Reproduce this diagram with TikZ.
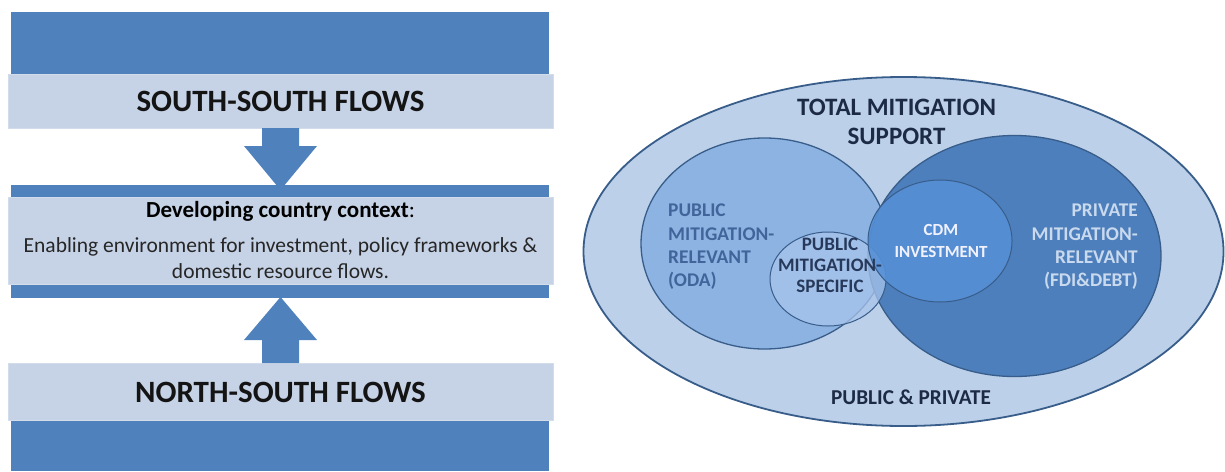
\documentclass[tikz,border=0pt]{standalone}
\usepackage{fontspec}
\setmainfont{Carlito}
\usetikzlibrary{shapes.geometric}
\definecolor{darkbar}{HTML}{4F81BD}
\definecolor{lightbar}{HTML}{C6D3E7}
\definecolor{barline}{HTML}{D3DCEA}
\definecolor{outerfill}{HTML}{BCD0E9}
\definecolor{leftfill}{HTML}{8DB3E2}
\definecolor{rightfill}{HTML}{4D7FBC}
\definecolor{cdmfill}{HTML}{5590D6}
\definecolor{specfill}{HTML}{A9C5EC}
\definecolor{ringline}{HTML}{385D8A}
\definecolor{navytext}{HTML}{1C2A45}
\definecolor{lefttext}{HTML}{41659A}
\definecolor{righttext}{HTML}{C9D9EE}
\definecolor{spectext}{HTML}{27395A}
\tikzset{
  lightbox/.style={rectangle, fill=lightbar, draw=barline, line width=1pt, inner sep=0pt},
  blockarrow/.style={fill=darkbar},
  ring/.style={ellipse, draw=ringline, line width=1.3pt, inner sep=0pt},
  lbl/.style={inner sep=0pt, font=\bfseries\fontsize{19.4}{23.3}\selectfont},
  flowtitle/.style={inner sep=0pt, text=black!92, font=\bfseries\fontsize{31}{35}\selectfont},
}
\begin{document}
\begin{tikzpicture}[x=1pt,y=-1pt]
\useasboundingbox (0,0) rectangle (1225,471);
% ---------- left panel ----------
\fill[darkbar] (11,12) rectangle (549,75);
\node[lightbox, minimum width=545pt, minimum height=54pt] (ss) at (280.5,101) {};
\node[flowtitle] (sst) at (280.5,101) {SOUTH-SOUTH FLOWS};

\fill[darkbar] (11,185) rectangle (549,298);
\node[lightbox, minimum width=545pt, minimum height=87pt] (dc) at (280.5,240.5) {};
\node[inner sep=0pt, font=\fontsize{23}{27}\selectfont] (dc1) at (280.5,211) {\textbf{Developing country context}:};
\node[inner sep=0pt, font=\fontsize{21.5}{25}\selectfont, text=black!85] (dc2) at (280.5,247) {Enabling environment for investment, policy frameworks \&};
\node[inner sep=0pt, font=\fontsize{21.5}{25}\selectfont, text=black!85] (dc3) at (280.5,271) {domestic resource flows.};

\node[lightbox, minimum width=545pt, minimum height=57pt] (ns) at (280.5,391.5) {};
\node[flowtitle] (nst) at (280.5,392) {NORTH-SOUTH FLOWS};
\fill[darkbar] (11,421) rectangle (549,471);

% arrows
\fill[blockarrow] (262,128) -- (299,128) -- (299,146) -- (317,146) -- (280.5,190) -- (244,146) -- (262,146) -- cycle;
\fill[blockarrow] (262,363) -- (299,363) -- (299,340) -- (317,340) -- (280.5,297) -- (244,340) -- (262,340) -- cycle;

% ---------- right panel ----------
\node[ring, fill=outerfill, line width=1.8pt, minimum width=640pt, minimum height=349pt] (tot) at (903.5,251.5) {};
\node[ring, fill=leftfill, minimum width=247pt, minimum height=211pt] (pub) at (764.5,243.5) {};
\node[ring, fill=rightfill, minimum width=293pt, minimum height=241pt] (priv) at (1014.5,256) {};
\node[ring, fill=specfill, fill opacity=0.75, line width=1pt, minimum width=116pt, minimum height=94pt] (spec) at (828,279) {};
\node[ring, fill=cdmfill, fill opacity=0.88, line width=1pt, minimum width=144pt, minimum height=122pt] (cdm) at (940,241) {};

% texts
\node[inner sep=0pt, text=navytext, font=\bfseries\fontsize{25}{29.5}\selectfont, align=center] (tt) at (896.5,122) {TOTAL MITIGATION\\SUPPORT};
\node[inner sep=0pt, text=navytext, font=\bfseries\fontsize{21.2}{25}\selectfont] (pp) at (911,397) {PUBLIC \& PRIVATE};
\node[lbl, text=lefttext, align=left, anchor=north west] (pubt) at (668,204) {PUBLIC\\MITIGATION-\\RELEVANT\\(ODA)};
\node[lbl, text=righttext, align=right, anchor=north east] (privt) at (1138,204) {PRIVATE\\MITIGATION-\\RELEVANT\\(FDI\&DEBT)};
\node[lbl, text=white!95!blue, align=center, font=\bfseries\fontsize{17}{21.5}\selectfont] (cdmt) at (941,241) {CDM\\INVESTMENT};
\node[lbl, text=spectext, align=center, font=\bfseries\fontsize{19}{21}\selectfont] (spect) at (830,265) {PUBLIC\\MITIGATION-\\SPECIFIC};
\end{tikzpicture}
\end{document}
